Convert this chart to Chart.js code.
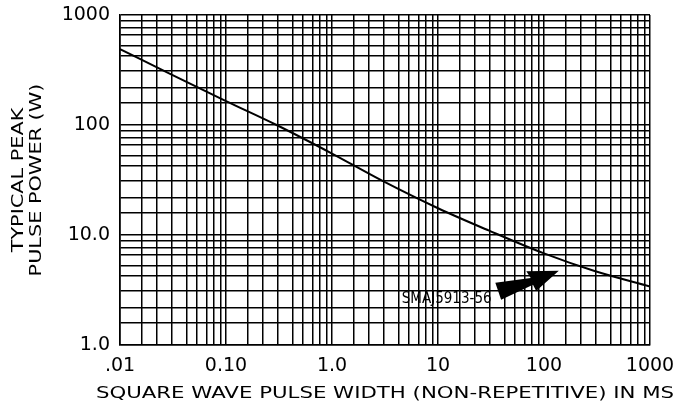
<!DOCTYPE html>
<html>
<head>
<meta charset="utf-8">
<script src="https://cdn.jsdelivr.net/npm/chart.js@4"></script>
<style>
  html, body { margin: 0; padding: 0; background: #fff; }
  canvas { display: block; }
</style>
</head>
<body>
<canvas id="chart-pulse" width="677" height="402"></canvas>
<script>
// パルス幅 (ms) とピーク電力 (W)
const pulseWidth = [0.01, 0.03, 0.1, 0.3, 1, 3, 10, 30, 100, 300, 1000];
const peakPower = [490, 290, 165, 100, 55, 31, 17.5, 11.0, 6.8, 4.7, 3.4];

// 目盛ラベル
const xMajor = [0.01, 0.1, 1, 10, 100, 1000];
const xTickLabels = ['.01', '0.10', '1.0', '10', '100', '1000'];
const yMajor = [1, 10, 100, 1000];
const yTickLabels = ['1.0', '10.0', '100', '1000'];
// 方眼紙の補助線（各デケード内）
const gridSteps = [1, 1.6, 2.2, 3.1, 4.3, 5.3, 6.6, 7.7, 8.9];

const xTitle = 'SQUARE WAVE PULSE WIDTH (NON-REPETITIVE) IN MS';
const yTitle = ['TYPICAL PEAK', 'PULSE POWER (W)'];

// 注記
const partLabel = 'SMAJ5913-56';
const labelAt = [32, 2.6];
const arrowFrom = [37, 3.08];
const arrowTo = [138, 4.74];

function gridTicks(majors) {
  const out = [];
  for (let i = 0; i < majors.length - 1; i++) {
    gridSteps.forEach((s) => out.push({ value: +(majors[i] * s).toPrecision(6) }));
  }
  out.push({ value: majors[majors.length - 1] });
  return out;
}

function labelFor(majors, labels) {
  return (v) => {
    const i = majors.findIndex((m) => Math.abs(Math.log10(m) - Math.log10(v)) < 1e-6);
    return i >= 0 ? labels[i] : '';
  };
}

const extras = {
  id: 'extras',
  afterDraw: (chart) => {
    const ctx = chart.ctx;
    const a = chart.chartArea;
    const x = chart.scales.x;
    const y = chart.scales.y;
    ctx.save();
    ctx.fillStyle = '#000';
    ctx.textAlign = 'center';
    ctx.textBaseline = 'middle';
    ctx.font = '16px "DejaVu Sans"';

    // 軸タイトル（横長書体の代わりに横方向へ伸ばす）
    ctx.save();
    ctx.translate((a.left + a.right) / 2, 394);
    ctx.scale(1.33, 1);
    ctx.fillText(xTitle, 0, 0);
    ctx.restore();

    yTitle.forEach((t, i) => {
      ctx.save();
      ctx.translate(19 + i * 18, (a.top + a.bottom) / 2);
      ctx.rotate(-Math.PI / 2);
      ctx.scale(1.3, 1);
      ctx.fillText(t, 0, 0);
      ctx.restore();
    });

    // 型番ラベル
    ctx.font = '15px "Liberation Sans Narrow", "DejaVu Sans Condensed", sans-serif';
    ctx.textAlign = 'right';
    ctx.fillText(partLabel, x.getPixelForValue(labelAt[0]), y.getPixelForValue(labelAt[1]));

    // 矢印
    const tx = x.getPixelForValue(arrowFrom[0]);
    const ty = y.getPixelForValue(arrowFrom[1]);
    const hx = x.getPixelForValue(arrowTo[0]);
    const hy = y.getPixelForValue(arrowTo[1]);
    const len = Math.hypot(hx - tx, hy - ty);
    const back = len - 30;
    ctx.translate(tx, ty);
    ctx.rotate(Math.atan2(hy - ty, hx - tx));
    const pts = [[0, -9], [back + 1, -2], [back - 1, -10], [len, 0], [back + 2, 12], [back + 1, 5], [0, 9]];
    ctx.beginPath();
    pts.forEach((p, i) => (i ? ctx.lineTo(p[0], p[1]) : ctx.moveTo(p[0], p[1])));
    ctx.closePath();
    ctx.fill();
    ctx.restore();
  },
};

const tickFont = { family: '"DejaVu Sans"', size: 19 };
const gridOpts = { color: '#000', lineWidth: 1.5, drawTicks: false };
const borderOpts = { color: '#000', width: 1.6 };

new Chart(document.getElementById('chart-pulse'), {
  type: 'line',
  data: {
    datasets: [{
      data: pulseWidth.map((v, i) => ({ x: v, y: peakPower[i] })),
      borderColor: '#000',
      borderWidth: 2,
      pointRadius: 0,
      cubicInterpolationMode: 'monotone',
      fill: false,
    }],
  },
  options: {
    responsive: false,
    animation: false,
    layout: { padding: { left: 0, right: 27, top: 15, bottom: 0 } },
    scales: {
      x: {
        type: 'logarithmic',
        min: xMajor[0],
        max: xMajor[xMajor.length - 1],
        grid: gridOpts,
        border: borderOpts,
        afterBuildTicks: (s) => { s.ticks = gridTicks(xMajor); },
        afterFit: (s) => {
          s.height = 57;
          s.paddingLeft = 0;
          s.paddingRight = 0;
        },
        ticks: {
          autoSkip: false,
          maxRotation: 0,
          padding: 10,
          color: '#000',
          font: tickFont,
          callback: labelFor(xMajor, xTickLabels),
        },
      },
      y: {
        type: 'logarithmic',
        min: yMajor[0],
        max: yMajor[yMajor.length - 1],
        grid: gridOpts,
        border: borderOpts,
        afterBuildTicks: (s) => { s.ticks = gridTicks(yMajor); },
        afterFit: (s) => {
          s.width = 120;
          s.paddingTop = 0;
          s.paddingBottom = 0;
        },
        ticks: {
          autoSkip: false,
          padding: 10,
          color: '#000',
          font: tickFont,
          callback: labelFor(yMajor, yTickLabels),
        },
      },
    },
    plugins: {
      legend: { display: false },
      tooltip: { enabled: false },
    },
  },
  plugins: [extras],
});
</script>
</body>
</html>
